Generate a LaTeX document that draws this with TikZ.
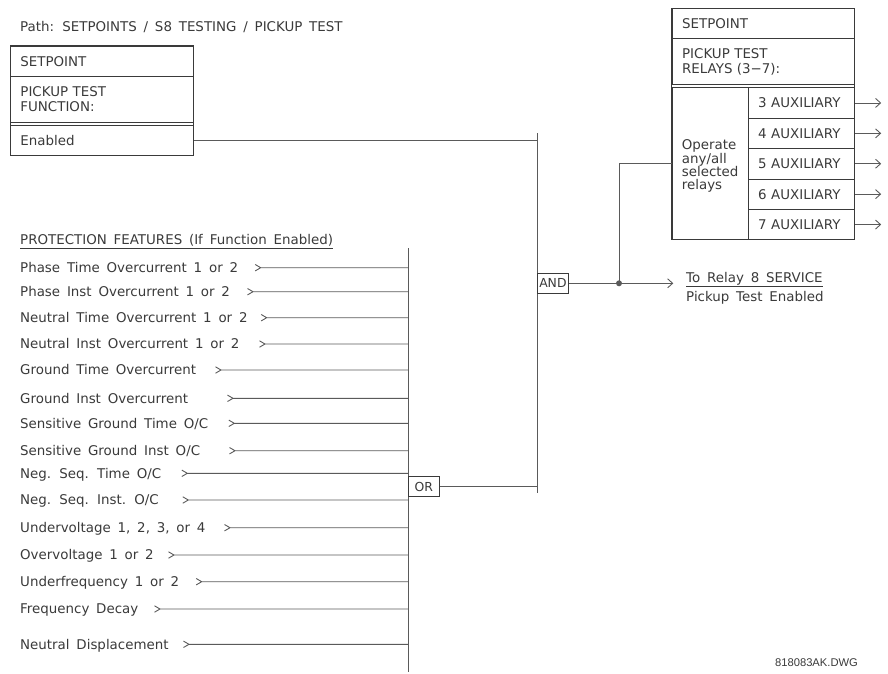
\documentclass[tikz,border=0pt]{standalone}
\usepackage{fontspec}
\setmainfont[WordSpace=1.6]{DejaVu Sans}
\newfontfamily\dwgfont{Liberation Sans}
\usepackage{tikz}
\usetikzlibrary{positioning,arrows.meta,calc}
\definecolor{dwgink}{HTML}{3A3A3A}
\definecolor{dwgline}{HTML}{5A5A5A}

\begin{document}
\begin{tikzpicture}[x=1pt,y=-1pt,
  lbl/.style={inner sep=0pt,anchor=base west,text=dwgink,font=\fontsize{13.4}{15}\selectfont},
  cell/.style={draw=dwgink,line width=0.9pt,anchor=north west,inner xsep=10pt,inner ysep=0pt,align=left,text=dwgink,font=\fontsize{13.4}{15}\selectfont},
  gate/.style={draw=dwgink,line width=0.8pt,inner sep=1.5pt,anchor=west,minimum width=30.4pt,minimum height=20pt,text=dwgink,font=\fontsize{12.4}{14}\selectfont},
  wire/.style={dwgline,line width=0.9pt},
  sig/.style={wire,-{Straight Barb[length=5pt,width=9pt]}}
]
\useasboundingbox (0,0) rectangle (888,673);

\node[lbl] (path) at (20,31.3) {Path: SETPOINTS / S8 TESTING / PICKUP TEST};

\draw[draw=dwgink,line width=0.9pt] (10,45.7) rectangle (193,155);
\node[cell,text width=163pt,minimum height=30.3pt] (sp1) at (10,45.7) {SETPOINT};
\node[cell,text width=163pt,minimum height=45.7pt] (fn1) at (10,76) {PICKUP TEST\\FUNCTION:};
\node[cell,text width=163pt,minimum height=30.3pt] (en) at (10,124.7) {Enabled};

\draw[draw=dwgink,line width=0.9pt] (671.7,8.3) rectangle (854.3,239.3);
\node[cell,text width=162.6pt,minimum height=30pt] (sp2) at (671.7,8.3) {SETPOINT};
\node[cell,text width=162.6pt,minimum height=46pt] (rl2) at (671.7,38.3) {PICKUP TEST\\RELAYS (3−7):};
\node[cell,inner xsep=0pt,minimum width=76pt,minimum height=152pt] (op) at (671.7,87.3) {};
\node[lbl,anchor=west,align=left,font=\fontsize{13.4}{13.4}\selectfont] (optxt) at ($(op.west)+(10,2.5)$) {Operate\\any/all\\selected\\relays};
\foreach \n [count=\i from 0] in {3,...,7} {
  \node[cell,text width=86.6pt,minimum height=30.4pt] (aux\n) at (747.7,87.3+30.4*\i) {\n\ AUXILIARY};
  \coordinate (out\n) at ($(aux\n.east)+(26,0)$);
  \draw[sig] (aux\n.east) -- (out\n);
}

\node[lbl] (prot) at (20,244.7) {\underline{PROTECTION FEATURES (If Function Enabled)}};
\coordinate (ortop) at (408.3,248);
\coordinate (orbot) at (408.3,671.7);
\draw[wire] (ortop) -- (orbot);
\foreach \y/\cx/\txt [count=\i] in {
  267.7/260.7/{Phase Time Overcurrent 1 or 2},
  291.7/253/{Phase Inst Overcurrent 1 or 2},
  317.7/266.7/{Neutral Time Overcurrent 1 or 2},
  344/265/{Neutral Inst Overcurrent 1 or 2},
  370/221/{Ground Time Overcurrent},
  398.3/233/{Ground Inst Overcurrent},
  423.3/234.3/{Sensitive Ground Time O/C},
  450.7/235/{Sensitive Ground Inst O/C},
  473.3/187.3/{Neg. Seq. Time O/C},
  500/188.3/{Neg. Seq. Inst. O/C},
  527.7/230/{Undervoltage 1, 2, 3, or 4},
  555/174/{Overvoltage 1 or 2},
  581.7/201.7/{Underfrequency 1 or 2},
  609/160/{Frequency Decay},
  644.3/189/{Neutral Displacement}} {
  \node[lbl] (feat\i) at (20,\y+4.8) {\txt};
  \coordinate (in\i) at (\cx,\y);
  \draw[wire] ($(in\i)+(-5.5,-3.2)$) -- (in\i) -- ($(in\i)+(-5.5,3.2)$) (in\i) -- (in\i -| ortop);
}

\node[gate] (org) at (408.3,486.7) {OR};
\coordinate (andtop) at (537.3,133);
\coordinate (andbot) at (537.3,492.7);
\draw[wire] (andtop) -- (andbot);
\node[gate] (andg) at (537.3,283.3) {AND};
\draw[wire] (en.east) -- (en.east -| andtop);
\draw[wire] (org.east) -- (org.east -| andtop);

\coordinate (tap) at (619,283.3);
\coordinate (r8in) at (673.3,283.3);
\draw[wire] (andg.east) -- (tap);
\draw[sig] (tap) -- (r8in);
\draw[wire] (tap) |- (op.west);
\fill[dwgline] (tap) circle (3pt);
\node[lbl] (r8) at (686,282.5) {\underline{To Relay 8 SERVICE}};
\node[lbl] (r8b) at (686,301.5) {Pickup Test Enabled};

\node[inner sep=0pt,text=dwgink,font=\dwgfont\fontsize{11.2}{12}\selectfont] (dwg) at (816.5,663) {818083AK.DWG};
\end{tikzpicture}
\end{document}
